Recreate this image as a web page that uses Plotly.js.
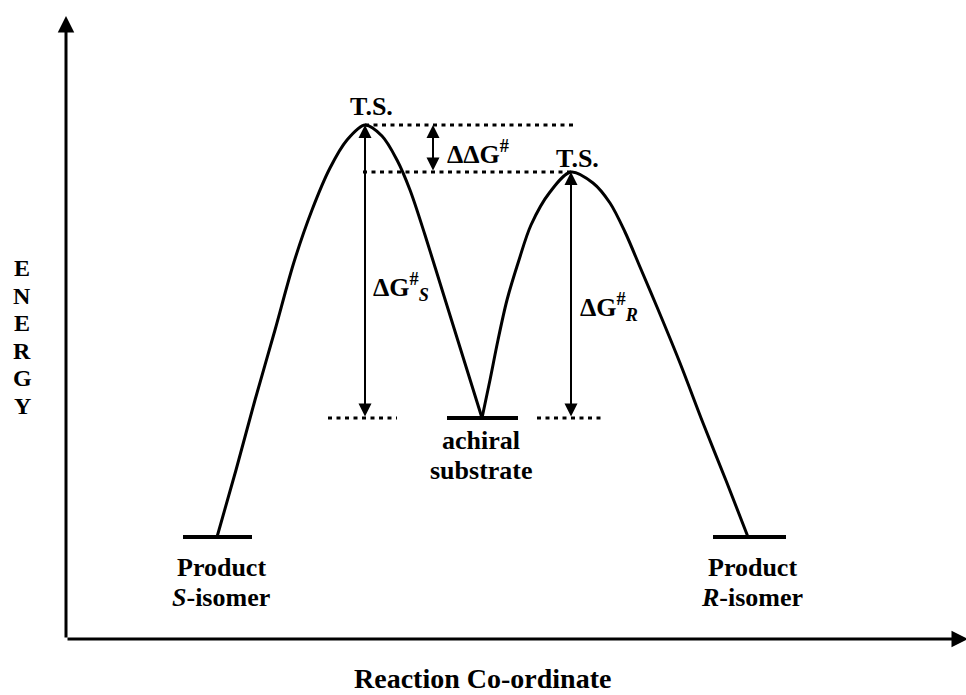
<!DOCTYPE html>
<html>
<head>
<meta charset="utf-8">
<script src="https://cdn.plot.ly/plotly-3.0.1.min.js"></script>
<style>html,body{margin:0;padding:0;background:#fff;}#chart{width:966px;height:695px;}</style>
</head>
<body>
<div id="chart"></div>
<script>
// Energy levels (reaction coordinate start/end, energy)
const levelX0 = [117, 381, 647];
const levelX1 = [186, 452, 720];
const levelE  = [102, 221, 102];
// Transition states
const tsX = [299, 505];
const tsE = [514, 467];
// Energy profile curves
const curve1X = [151, 170, 189, 209, 228, 246, 264, 281, 299, 316, 331, 344, 359, 378, 397, 416];
const curve1E = [102, 169, 239, 309, 377, 429, 471, 499, 514, 503, 479, 449, 404, 343, 282, 221];
const curve2X = [416, 424, 432, 441, 453, 465, 484, 505, 527, 544, 559, 574, 591, 614, 637, 661, 682];
const curve2E = [221, 259, 299, 339, 379, 414, 447, 467, 456, 436, 407, 372, 332, 276, 216, 156, 102];
// Dotted reference lines at substrate level
const dotLeftX = [262, 331];
const dotRightX = [471, 539];
const ddgArrowX = 367;
// Axis extent
const axisXMax = 902;
const axisEMax = 623;
// Axis title letters
const energyLetters = ['E', 'N', 'E', 'R', 'G', 'Y'];

const fontFam = 'Liberation Serif, Times New Roman, serif';
const black = '#000';

const traces = [];
const curveLine = {color: black, width: 3, shape: 'spline', smoothing: 0.9};
traces.push({x: curve1X, y: curve1E, mode: 'lines', line: curveLine, hoverinfo: 'skip'});
traces.push({x: curve2X, y: curve2E, mode: 'lines', line: curveLine, hoverinfo: 'skip'});
for (let i = 0; i < levelE.length; i++) {
  traces.push({x: [levelX0[i], levelX1[i]], y: [levelE[i], levelE[i]], mode: 'lines', line: {color: black, width: 4}, hoverinfo: 'skip'});
}
const dotStyle = {color: black, width: 3, dash: '4px,4.5px'};
traces.push({x: [tsX[0], tsX[1] + 2], y: [tsE[0], tsE[0]], mode: 'lines', line: dotStyle, hoverinfo: 'skip'});
traces.push({x: [tsX[0] - 2, tsX[1] + 2], y: [tsE[1], tsE[1]], mode: 'lines', line: dotStyle, hoverinfo: 'skip'});
traces.push({x: dotLeftX, y: [levelE[1], levelE[1]], mode: 'lines', line: dotStyle, hoverinfo: 'skip'});
traces.push({x: dotRightX, y: [levelE[1], levelE[1]], mode: 'lines', line: dotStyle, hoverinfo: 'skip'});

function arrow(x0, y0, x1, y1, w, size, both) {
  return {x: x1, y: y1, ax: x0, ay: y0, xref: 'x', yref: 'y', axref: 'x', ayref: 'y',
    text: '', showarrow: true, arrowhead: 2, startarrowhead: 2, arrowsize: size, startarrowsize: size,
    arrowwidth: w, arrowcolor: black, arrowside: both ? 'end+start' : 'end', standoff: 0, startstandoff: 0};
}
function label(x, y, text, size, xanchor) {
  return {x: x, y: y, xref: 'x', yref: 'y', text: text, showarrow: false, xanchor: xanchor || 'center', yanchor: 'middle',
    font: {family: fontFam, size: size || 26, color: black}};
}

const annotations = [
  arrow(0, 0, 0, axisEMax, 3, 1.1, false),
  arrow(0, 0, axisXMax, 0, 3, 1.1, false),
  arrow(tsX[0], levelE[1], tsX[0], tsE[0], 2, 1.3, true),
  arrow(tsX[1], levelE[1], tsX[1], tsE[1], 2, 1.3, true),
  arrow(ddgArrowX, tsE[1], ddgArrowX, tsE[0], 2, 1.3, true),
  label(305, 533, '<b>T.S.</b>'),
  label(511, 481, '<b>T.S.</b>'),
  label(379, 487, '<b>ΔΔG<sup>#</sup></b>', 26, 'left'),
  label(305, 352, '<b>ΔG<sup>#</sup><sub><i>S</i></sub></b>', 26, 'left'),
  label(512, 332, '<b>ΔG<sup>#</sup><sub><i>R</i></sub></b>', 26, 'left'),
  label(415, 199, '<b>achiral</b>'),
  label(415, 169, '<b>substrate</b>'),
  label(155, 72, '<b>Product</b>'),
  label(155, 42, '<b><i>S</i>-isomer</b>'),
  label(686, 72, '<b>Product</b>'),
  label(686, 42, '<b><i>R</i>-isomer</b>'),
  label(416, -39, '<b>Reaction Co-ordinate</b>', 28)
];
energyLetters.forEach(function (ch, i) {
  annotations.push(label(-44, 371 - 27.6 * i, '<b>' + ch + '</b>', 24));
});

const layout = {
  width: 966, height: 695,
  margin: {l: 0, r: 0, t: 0, b: 0},
  paper_bgcolor: '#fff', plot_bgcolor: '#fff',
  showlegend: false,
  xaxis: {range: [-66, 900], visible: false, fixedrange: true},
  yaxis: {range: [-56, 639], visible: false, fixedrange: true},
  annotations: annotations
};
Plotly.newPlot('chart', traces, layout, {displayModeBar: false, staticPlot: true});
</script>
</body>
</html>
